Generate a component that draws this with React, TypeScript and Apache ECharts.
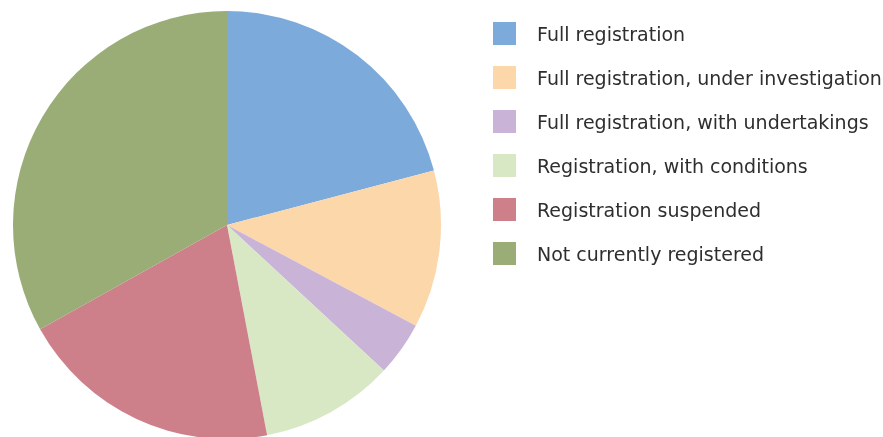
import React, { useEffect, useRef } from "react";
import * as echarts from "echarts";

const categories = [
  "Full registration",
  "Full registration, under investigation",
  "Full registration, with undertakings",
  "Registration, with conditions",
  "Registration suspended",
  "Not currently registered",
];
const values = [20.9, 11.9, 4.1, 10.1, 19.9, 33.1];
const colors = ["#7BAADB", "#FCD7AA", "#C9B4D8", "#D8E8C5", "#CD7F8A", "#9AAD77"];

export default function App() {
  const ref = useRef<HTMLDivElement>(null);
  useEffect(() => {
    const chart = echarts.init(ref.current!, null, { renderer: "svg" });
    chart.setOption({
      animation: false,
      color: colors,
      legend: {
        orient: "vertical",
        left: 493,
        top: 22,
        padding: 0,
        itemWidth: 23,
        itemHeight: 23,
        itemGap: 21,
        icon: "rect",
        textStyle: {
          fontFamily: "DejaVu Sans",
          fontSize: 19,
          color: "#2e2e2e",
          padding: [0, 0, 0, 16],
        },
        data: categories,
      },
      series: [
        {
          type: "pie",
          center: [227, 225],
          radius: 214,
          startAngle: 90,
          clockwise: true,
          label: { show: false },
          labelLine: { show: false },
          emphasis: { disabled: true },
          itemStyle: { borderWidth: 0 },
          data: categories.map((name, i) => ({ name, value: values[i] })),
        },
      ],
    });
    return () => chart.dispose();
  }, []);
  return (
    <div
      ref={ref}
      style={{ position: "fixed", left: 0, top: 0, width: 883, height: 437 }}
    />
  );
}
